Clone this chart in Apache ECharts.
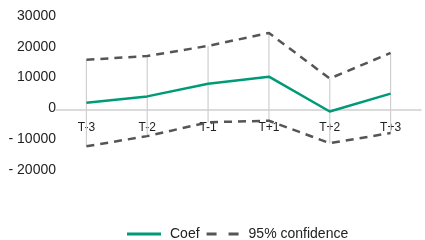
<!DOCTYPE html>
<html>
<head>
<meta charset="utf-8">
<script src="https://cdn.jsdelivr.net/npm/echarts@6/dist/echarts.min.js"></script>
<style>
html, body { margin: 0; padding: 0; background: #fff; }
#main { width: 425px; height: 240px; }
</style>
</head>
<body>
<div id="main"></div>
<script>
var categories = ['T-3', 'T-2', 'T-1', 'T+1', 'T+2', 'T+3'];
var coef = [1800, 3900, 8000, 10300, -1000, 4800];
var upper = [15800, 17000, 20300, 24500, 9700, 18000];
var lower = [-12300, -9000, -4500, -4000, -11300, -8000];

var font = '"Liberation Sans Narrow", "Liberation Sans", Arial, sans-serif';

var chart = echarts.init(document.getElementById('main'));
chart.setOption({
    animation: false,
    textStyle: { fontFamily: font },
    grid: { left: 56, right: 4, top: 16, bottom: 70, containLabel: false },
    legend: {
        top: 222,
        left: 122,
        itemWidth: 34,
        itemHeight: 3,
        itemGap: 7,
        textStyle: { fontFamily: font, fontSize: 14, color: '#222', padding: [0, 0, 0, 4] },
        data: [
            { name: 'Coef', icon: 'rect' },
            { name: '95% confidence', icon: 'path://M0,0H10V3H0Z M22,0H32V3H22Z' }
        ]
    },
    xAxis: {
        type: 'category',
        data: categories,
        position: 'bottom',
        offset: -60,
        axisLine: { onZero: false, lineStyle: { color: '#d0d0d0', width: 1.5 } },
        axisTick: { show: false },
        axisLabel: { color: '#222', fontSize: 12, margin: 12, fontFamily: font }
    },
    yAxis: {
        type: 'value',
        min: -20000,
        max: 30000,
        interval: 10000,
        splitLine: { show: false },
        axisLine: { show: false },
        axisTick: { show: false },
        axisLabel: {
            color: '#222',
            fontSize: 14,
            margin: 0,
            fontFamily: font,
            formatter: function (v) { return v < 0 ? '- ' + Math.abs(v) : String(v); }
        }
    },
    series: [
        {
            name: 'range',
            type: 'custom',
            silent: true,
            z: 1,
            data: categories.map(function (c, i) { return [i, lower[i], upper[i]]; }),
            renderItem: function (params, api) {
                var a = api.coord([api.value(0), api.value(1)]);
                var b = api.coord([api.value(0), api.value(2)]);
                return {
                    type: 'line',
                    shape: { x1: a[0], y1: a[1], x2: b[0], y2: b[1] },
                    style: { stroke: '#cfcfcf', lineWidth: 1.2 }
                };
            }
        },
        {
            name: 'Coef',
            type: 'line',
            data: coef,
            symbol: 'none',
            z: 3,
            lineStyle: { color: '#009a78', width: 2.5 },
            itemStyle: { color: '#009a78' }
        },
        {
            name: '95% confidence',
            type: 'line',
            data: upper,
            symbol: 'none',
            z: 2,
            lineStyle: { color: '#555', width: 2.5, type: [8, 6] },
            itemStyle: { color: '#555' }
        },
        {
            name: '95% confidence',
            type: 'line',
            data: lower,
            symbol: 'none',
            z: 2,
            lineStyle: { color: '#555', width: 2.5, type: [8, 6] },
            itemStyle: { color: '#555' }
        }
    ]
});
</script>
</body>
</html>
